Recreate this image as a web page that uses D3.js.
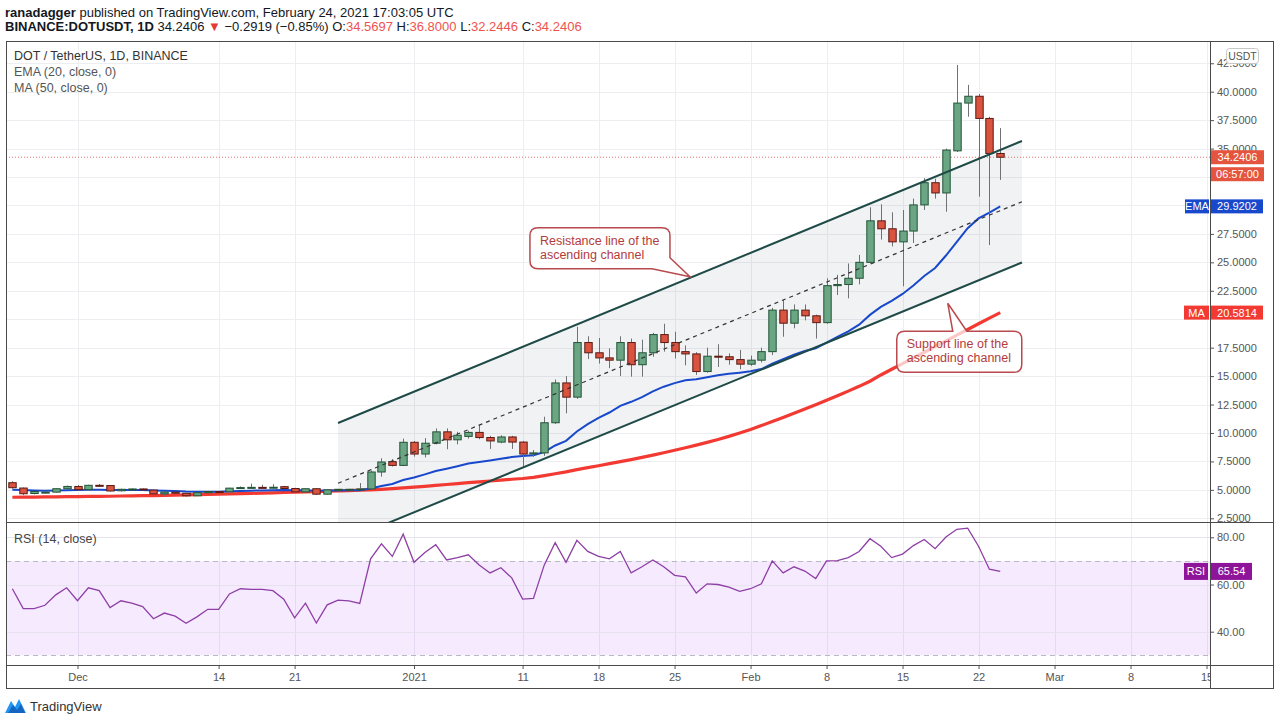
<!DOCTYPE html>
<html>
<head>
<meta charset="utf-8">
<script src="https://cdn.jsdelivr.net/npm/d3@7"></script>
<style>
  body { margin: 0; background: #fff; }
  svg text { font-family: "Liberation Sans", Arial, sans-serif; }
</style>
</head>
<body>
<svg id="chart" width="1280" height="723"></svg>
<script>
// ---- data ----
const days = ('2020-11-25 2020-11-26 2020-11-27 2020-11-28 2020-11-29 2020-11-30 ' +
  '2020-12-01 2020-12-02 2020-12-03 2020-12-04 2020-12-05 2020-12-06 2020-12-07 2020-12-08 2020-12-09 2020-12-10 ' +
  '2020-12-11 2020-12-12 2020-12-13 2020-12-14 2020-12-15 2020-12-16 2020-12-17 2020-12-18 2020-12-19 2020-12-20 ' +
  '2020-12-21 2020-12-22 2020-12-23 2020-12-24 2020-12-25 2020-12-26 2020-12-27 2020-12-28 2020-12-29 2020-12-30 2020-12-31 ' +
  '2021-01-01 2021-01-02 2021-01-03 2021-01-04 2021-01-05 2021-01-06 2021-01-07 2021-01-08 2021-01-09 2021-01-10 ' +
  '2021-01-11 2021-01-12 2021-01-13 2021-01-14 2021-01-15 2021-01-16 2021-01-17 2021-01-18 2021-01-19 2021-01-20 ' +
  '2021-01-21 2021-01-22 2021-01-23 2021-01-24 2021-01-25 2021-01-26 2021-01-27 2021-01-28 2021-01-29 2021-01-30 2021-01-31 ' +
  '2021-02-01 2021-02-02 2021-02-03 2021-02-04 2021-02-05 2021-02-06 2021-02-07 2021-02-08 2021-02-09 2021-02-10 ' +
  '2021-02-11 2021-02-12 2021-02-13 2021-02-14 2021-02-15 2021-02-16 2021-02-17 2021-02-18 2021-02-19 2021-02-20 ' +
  '2021-02-21 2021-02-22 2021-02-23 2021-02-24').split(' ');

const opens = [5.63,5.16,4.68,4.78,4.80,5.10,5.30,5.02,5.40,5.38,
  4.92,5.05,5.08,4.98,4.65,4.80,4.70,4.48,4.75,4.85,
  4.83,5.15,5.20,5.22,5.20,5.28,5.12,4.82,5.10,4.62,
  5.00,5.05,5.05,5.08,6.57,7.48,7.15,9.18,8.15,9.10,
  10.10,9.40,9.70,10.05,9.60,9.20,9.65,9.20,8.15,8.25,
  10.90,14.40,13.15,17.95,17.05,16.60,16.40,17.95,16.00,17.05,
  18.65,17.95,17.15,16.95,15.40,16.75,16.70,16.45,16.05,16.40,
  17.15,20.80,19.65,20.80,20.30,19.70,22.95,23.05,23.60,25.00,
  28.65,27.95,26.80,27.75,30.05,32.00,31.10,34.80,39.00,39.60,
  37.65,34.5697];
const highs = [5.75,5.20,4.90,4.88,5.12,5.38,5.42,5.45,5.52,5.42,
  5.10,5.12,5.12,5.02,4.85,4.85,4.74,4.80,4.90,4.90,
  5.18,5.30,5.55,5.45,5.50,5.35,5.18,5.12,5.12,5.02,
  5.08,5.10,5.60,6.70,7.78,7.70,9.50,9.30,9.55,10.40,
  10.40,10.10,10.20,10.70,9.75,9.80,9.75,9.30,8.50,11.43,
  14.70,15.00,19.34,18.50,18.35,17.44,18.50,18.30,18.20,18.80,
  19.60,18.90,17.70,17.10,17.50,17.80,17.00,17.30,16.80,17.50,
  21.00,21.69,21.30,21.30,20.40,23.60,23.90,24.90,25.65,29.84,
  30.10,29.40,29.60,30.60,32.40,32.35,35.00,42.35,40.60,39.80,
  37.80,36.80];
const lows = [5.10,4.55,4.60,4.70,4.76,5.05,4.95,4.98,5.30,4.85,
  4.85,4.98,4.95,4.58,4.50,4.65,4.40,4.45,4.70,4.78,
  4.80,5.10,5.15,5.15,5.15,5.08,4.78,4.78,4.55,4.58,
  4.95,5.00,5.00,5.00,6.16,7.05,7.10,7.92,7.85,9.00,
  8.57,9.00,9.50,9.45,8.60,9.10,8.60,7.04,7.90,7.99,
  10.80,11.73,13.00,16.50,16.10,15.70,15.00,14.95,14.95,16.70,
  17.15,16.55,15.95,15.10,15.30,15.80,16.00,15.60,15.90,16.20,
  16.85,18.46,19.20,19.90,18.30,19.60,22.13,21.84,23.07,24.90,
  27.00,26.40,22.90,26.70,29.60,30.60,29.45,34.70,37.80,30.77,
  26.52,32.2446];
const closes = [5.19,4.66,4.86,4.80,5.10,5.30,5.02,5.40,5.38,4.90,
  5.05,5.08,5.00,4.65,4.80,4.70,4.48,4.75,4.85,4.83,
  5.15,5.20,5.22,5.20,5.23,5.12,4.82,5.10,4.62,5.00,
  5.05,5.05,5.08,6.57,7.45,7.15,9.18,8.15,9.10,10.10,
  9.40,9.80,10.05,9.60,9.30,9.65,9.20,8.15,8.25,10.90,
  14.40,13.15,17.95,17.05,16.60,16.40,17.95,16.00,17.05,18.65,
  17.95,17.15,16.95,15.40,16.75,16.70,16.45,16.05,16.40,17.15,
  20.80,19.65,20.80,20.30,19.70,22.95,23.05,23.60,25.00,28.65,
  27.95,26.80,27.75,30.05,32.00,31.10,34.87,39.00,39.60,37.65,
  34.57,34.2406];

const ema20 = [5.00,4.98,4.95,4.93,4.95,4.97,4.98,5.00,5.02,4.99,
  4.98,4.98,4.98,4.94,4.92,4.89,4.85,4.84,4.84,4.84,
  4.87,4.90,4.93,4.95,4.97,4.98,4.96,4.97,4.93,4.94,
  4.95,4.96,4.97,5.12,5.34,5.52,5.87,6.08,6.36,6.66,
  6.86,7.08,7.31,7.45,7.58,7.73,7.88,7.98,8.05,8.33,
  8.90,9.31,10.13,10.78,11.32,11.80,12.38,12.74,13.15,13.66,
  14.07,14.38,14.63,14.72,14.90,15.07,15.20,15.30,15.42,15.62,
  16.10,16.48,16.88,17.20,17.45,17.95,18.44,18.94,19.52,20.38,
  21.08,21.62,22.22,22.96,23.80,24.50,25.60,26.80,28.00,28.86,
  29.38,29.9202];
const ma50 = [4.35,4.36,4.37,4.38,4.39,4.40,4.41,4.42,4.43,4.44,
  4.46,4.47,4.49,4.50,4.52,4.54,4.56,4.58,4.60,4.62,
  4.65,4.67,4.69,4.72,4.74,4.77,4.79,4.82,4.85,4.88,
  4.91,4.94,4.97,5.00,5.05,5.10,5.17,5.24,5.31,5.39,
  5.47,5.55,5.63,5.71,5.78,5.85,5.93,6.00,6.10,6.25,
  6.42,6.58,6.78,6.95,7.12,7.30,7.48,7.66,7.85,8.05,
  8.26,8.48,8.70,8.93,9.17,9.42,9.70,10.00,10.30,10.65,
  11.00,11.36,11.73,12.10,12.48,12.87,13.27,13.68,14.10,14.55,
  15.10,15.60,16.10,16.60,17.10,17.60,18.10,18.60,19.10,19.60,
  20.10,20.5814];
const rsi14 = [58.2,49.8,49.8,51.2,55.6,58.6,53.1,58.6,57.4,50.2,
  53.1,52.1,50.6,45.5,47.9,46.6,43.6,46.3,49.5,49.5,
  56.0,58.2,57.9,57.9,57.4,53.8,45.9,52.1,43.7,51.4,
  53.4,53.1,52.0,70.9,77.2,71.9,81.3,69.4,73.6,76.9,
  70.4,71.4,72.6,68.3,64.9,67.1,62.8,53.8,54.1,68.3,
  77.7,69.4,78.7,74.0,71.9,70.9,74.0,64.9,67.5,70.4,
  67.5,63.9,63.2,56.4,60.3,60.0,58.9,57.1,58.2,60.3,
  70.0,64.9,67.5,65.7,62.5,70.0,70.1,71.4,74.0,79.4,
  76.2,71.4,72.9,76.5,79.1,75.2,80.1,83.4,83.9,76.2,
  66.5,65.54];

// price labels that the axis badges hide in the original are left out
const priceTicks = [2.5,5,7.5,10,12.5,15,17.5,22.5,25,27.5,35,37.5,40,42.5];
const priceGrid = [2.5,5,7.5,10,12.5,15,17.5,20,22.5,25,27.5,30,32.5,35,37.5,40,42.5];
const rsiTicks = [40,60,80];
const timeTicks = ['2020-12-01','2020-12-14','2020-12-21','2021-01-01','2021-01-11','2021-01-18',
  '2021-01-25','2021-02-01','2021-02-08','2021-02-15','2021-02-22','2021-03-01','2021-03-08','2021-03-15'];
const timeLabels = ['Dec','14','21','2021','11','18','25','Feb','8','15','22','Mar','8','15'];

// parallel channel drawing: anchor dates and prices of the three lines
const channelDates = ['2020-12-25', '2021-02-26'];
const channelUpper = [10.88, 35.67];
const channelMiddle = [5.58, 30.33];
const channelLower = [0.28, 24.99];

const notes = [
  { lines: ['Resistance line of the', 'ascending channel'], tipDate: '2021-01-26T10:00:00Z', tipPrice: 23.74, tail: 'bottom-right' },
  { lines: ['Support line of the', 'ascending channel'], tipDate: '2021-02-19T04:00:00Z', tipPrice: 21.4, tail: 'top' }
];

// ---- layout ----
const frame = { left: 6, right: 1273, top: 41, bottom: 688 };
const axisX = 1210;
const priceBottom = 522, rsiBottom = 665;

const parse = d3.utcParse('%Y-%m-%d');
const dates = days.map(parse);
const last = closes.length - 1;

const x = d3.scaleUtc()
  .domain([parse('2020-12-01'), parse('2021-03-15')])
  .range([77.5, 1206.5]);
const y = d3.scaleLinear().domain([2.5, 40]).range([518.3, 91.7]);
const yr = d3.scaleLinear().domain([40, 80]).range([631.7, 537.3]);

const svg = d3.select('#chart');
const defs = svg.append('defs');
defs.append('clipPath').attr('id', 'clipPrice')
  .append('rect').attr('x', frame.left).attr('y', frame.top)
  .attr('width', axisX - frame.left).attr('height', priceBottom - frame.top);
defs.append('clipPath').attr('id', 'clipRsi')
  .append('rect').attr('x', frame.left).attr('y', priceBottom)
  .attr('width', axisX - frame.left).attr('height', rsiBottom - priceBottom);
defs.append('clipPath').attr('id', 'clipTime')
  .append('rect').attr('x', frame.left).attr('y', rsiBottom)
  .attr('width', axisX - frame.left).attr('height', frame.bottom - rsiBottom);

// ---- header ----
const hdr = svg.append('g').attr('font-size', 13).attr('fill', '#131722');
const l1 = hdr.append('text').attr('x', 5).attr('y', 17);
l1.append('tspan').attr('font-weight', 'bold').text('ranadagger');
l1.append('tspan').text(' published on TradingView.com, February 24, 2021 17:03:05 UTC');
const l2 = hdr.append('text').attr('x', 5).attr('y', 31);
l2.append('tspan').attr('font-weight', 'bold').text('BINANCE:DOTUSDT, 1D');
l2.append('tspan').text(' 34.2406 ');
l2.append('tspan').attr('fill', '#e53935').text('▼');
l2.append('tspan').text(' −0.2919 (−0.85%) O:');
l2.append('tspan').attr('fill', '#ef5350').text('34.5697');
l2.append('tspan').text(' H:');
l2.append('tspan').attr('fill', '#ef5350').text('36.8000');
l2.append('tspan').text(' L:');
l2.append('tspan').attr('fill', '#ef5350').text('32.2446');
l2.append('tspan').text(' C:');
l2.append('tspan').attr('fill', '#ef5350').text('34.2406');

// ---- grid ----
const grid = svg.append('g').attr('stroke', '#eceef2').attr('stroke-width', 1);
grid.append('g').attr('clip-path', 'url(#clipPrice)')
  .selectAll('line').data(timeTicks).join('line')
  .attr('x1', d => Math.round(x(parse(d))) + 0.5).attr('x2', d => Math.round(x(parse(d))) + 0.5)
  .attr('y1', frame.top).attr('y2', priceBottom);
grid.append('g').attr('clip-path', 'url(#clipRsi)')
  .selectAll('line').data(timeTicks).join('line')
  .attr('x1', d => Math.round(x(parse(d))) + 0.5).attr('x2', d => Math.round(x(parse(d))) + 0.5)
  .attr('y1', priceBottom).attr('y2', rsiBottom);
grid.append('g').attr('clip-path', 'url(#clipPrice)')
  .selectAll('line').data(priceGrid).join('line')
  .attr('x1', frame.left).attr('x2', axisX)
  .attr('y1', d => Math.round(y(d)) + 0.5).attr('y2', d => Math.round(y(d)) + 0.5);

// ---- price pane ----
const pane = svg.append('g').attr('clip-path', 'url(#clipPrice)');
const cx0 = x(parse(channelDates[0])), cx1 = x(parse(channelDates[1]));

pane.append('path')
  .attr('d', `M${cx0},${y(channelUpper[0])}L${cx1},${y(channelUpper[1])}L${cx1},${y(channelLower[1])}L${cx0},${y(channelLower[0])}Z`)
  .attr('fill', 'rgba(120,123,134,0.1)');

// last price dotted line
pane.append('line')
  .attr('x1', frame.left).attr('x2', axisX)
  .attr('y1', y(closes[last])).attr('y2', y(closes[last]))
  .attr('stroke', '#e57373').attr('stroke-dasharray', '1,2').attr('stroke-width', 1);

// moving averages
const line = d3.line().x((d, i) => x(dates[i])).y(d => y(d));
pane.append('path').datum(ma50).attr('d', line)
  .attr('fill', 'none').attr('stroke', '#f23a33').attr('stroke-width', 3.2);
pane.append('path').datum(ema20).attr('d', line)
  .attr('fill', 'none').attr('stroke', '#1848cc').attr('stroke-width', 2);

// candles
const bodyW = 7.4;
const candles = pane.append('g').selectAll('g').data(dates).join('g');
candles.append('line')
  .attr('x1', d => Math.round(x(d)) + 0.5).attr('x2', d => Math.round(x(d)) + 0.5)
  .attr('y1', (d, i) => y(highs[i])).attr('y2', (d, i) => y(lows[i]))
  .attr('stroke', '#6f7175').attr('stroke-width', 1);
candles.append('rect')
  .attr('x', d => Math.round(x(d)) + 0.5 - bodyW / 2)
  .attr('width', bodyW)
  .attr('y', (d, i) => y(Math.max(opens[i], closes[i])))
  .attr('height', (d, i) => Math.max(1, Math.abs(y(opens[i]) - y(closes[i]))))
  .attr('fill', (d, i) => closes[i] >= opens[i] ? '#6aa584' : '#d9533f')
  .attr('stroke', (d, i) => closes[i] >= opens[i] ? '#225437' : '#5b1a13')
  .attr('stroke-width', 1);

// channel lines
pane.append('line')
  .attr('x1', cx0).attr('y1', y(channelUpper[0])).attr('x2', cx1).attr('y2', y(channelUpper[1]))
  .attr('stroke', '#1e4a47').attr('stroke-width', 2);
pane.append('line')
  .attr('x1', cx0).attr('y1', y(channelLower[0])).attr('x2', cx1).attr('y2', y(channelLower[1]))
  .attr('stroke', '#1e4a47').attr('stroke-width', 2);
pane.append('line')
  .attr('x1', cx0).attr('y1', y(channelMiddle[0])).attr('x2', cx1).attr('y2', y(channelMiddle[1]))
  .attr('stroke', '#333').attr('stroke-width', 1.2).attr('stroke-dasharray', '4,4');

// callouts
const r = 8;
notes.forEach(n => {
  const tx = x(d3.isoParse(n.tipDate)), ty = y(n.tipPrice);
  let L, T, R, B, p;
  if (n.tail === 'bottom-right') {
    L = tx - 160; R = tx - 20; T = ty - 49; B = ty - 8;
    p = `M${L + r},${T}H${R - r}Q${R},${T} ${R},${T + r}V${B - 11}L${tx},${ty}L${R - 18},${B}` +
        `H${L + r}Q${L},${B} ${L},${B - r}V${T + r}Q${L},${T} ${L + r},${T}Z`;
  } else {
    L = tx - 51; R = tx + 74; T = ty + 28; B = ty + 69;
    p = `M${L + r},${T}H${tx + 5}L${tx},${ty}L${tx + 19},${T}H${R - r}Q${R},${T} ${R},${T + r}` +
        `V${B - r}Q${R},${B} ${R - r},${B}H${L + r}Q${L},${B} ${L},${B - r}V${T + r}Q${L},${T} ${L + r},${T}Z`;
  }
  pane.append('path').attr('d', p)
    .attr('fill', 'rgba(255,255,255,0.72)').attr('stroke', '#b8494d').attr('stroke-width', 1.5);
  pane.append('g').selectAll('text').data(n.lines).join('text')
    .attr('x', L + 10).attr('y', (d, i) => T + 17 + i * 14)
    .attr('font-size', 12.5).attr('fill', '#b23c3c').text(d => d);
});

// pane legend
const leg = svg.append('g').attr('font-size', 12.5);
leg.append('text').attr('x', 14).attr('y', 60).attr('fill', '#333').text('DOT / TetherUS, 1D, BINANCE');
leg.append('text').attr('x', 14).attr('y', 76).attr('fill', '#555').text('EMA (20, close, 0)');
leg.append('text').attr('x', 14).attr('y', 92).attr('fill', '#555').text('MA (50, close, 0)');

// ---- RSI pane ----
const rp = svg.append('g').attr('clip-path', 'url(#clipRsi)');
rp.append('rect').attr('x', frame.left).attr('width', axisX - frame.left)
  .attr('y', yr(70)).attr('height', yr(30) - yr(70))
  .attr('fill', 'rgba(153,21,255,0.09)');
rp.append('g').selectAll('line').data(rsiTicks).join('line')
  .attr('x1', frame.left).attr('x2', axisX)
  .attr('y1', d => Math.round(yr(d)) + 0.5).attr('y2', d => Math.round(yr(d)) + 0.5)
  .attr('stroke', '#e6e3ee');
rp.append('g').selectAll('line').data([70, 30]).join('line')
  .attr('x1', frame.left).attr('x2', axisX)
  .attr('y1', d => Math.round(yr(d)) + 0.5).attr('y2', d => Math.round(yr(d)) + 0.5)
  .attr('stroke', '#b9b9c0').attr('stroke-dasharray', '5,4');
rp.append('path').datum(rsi14)
  .attr('d', d3.line().x((d, i) => x(dates[i])).y(d => yr(d)))
  .attr('fill', 'none').attr('stroke', '#8e3fa5').attr('stroke-width', 1.3);
svg.append('text').attr('x', 14).attr('y', 543).attr('font-size', 12.5).attr('fill', '#444')
  .text('RSI (14, close)');

// ---- axes ----
const styleAxis = g => {
  g.select('.domain').remove();
  g.selectAll('.tick line').attr('stroke', '#555');
  g.selectAll('.tick text').attr('fill', '#555').attr('font-size', 11)
    .attr('font-family', '"Liberation Sans", Arial, sans-serif');
};
svg.append('g').attr('transform', `translate(${axisX},0)`)
  .call(d3.axisRight(y).tickValues(priceTicks).tickFormat(d3.format('.4f')).tickSize(4).tickPadding(3))
  .call(styleAxis);
svg.append('g').attr('transform', `translate(${axisX},0)`)
  .call(d3.axisRight(yr).tickValues(rsiTicks).tickFormat(d3.format('.2f')).tickSize(4).tickPadding(3))
  .call(styleAxis);
svg.append('g').attr('clip-path', 'url(#clipTime)')
  .append('g').attr('transform', `translate(0,${rsiBottom})`)
  .call(d3.axisBottom(x).tickValues(timeTicks.map(parse)).tickFormat((d, i) => timeLabels[i]).tickSize(4).tickPadding(4))
  .call(styleAxis);

// ---- frame & separators ----
const fr = svg.append('g').attr('stroke', '#4a4a4a').attr('fill', 'none').attr('stroke-width', 1);
fr.append('rect').attr('x', frame.left + 0.5).attr('y', frame.top + 0.5)
  .attr('width', frame.right - frame.left).attr('height', frame.bottom - frame.top);
fr.append('line').attr('x1', frame.left).attr('x2', frame.right).attr('y1', priceBottom + 0.5).attr('y2', priceBottom + 0.5);
fr.append('line').attr('x1', frame.left).attr('x2', frame.right).attr('y1', rsiBottom + 0.5).attr('y2', rsiBottom + 0.5);
fr.append('line').attr('x1', axisX + 0.5).attr('x2', axisX + 0.5).attr('y1', frame.top).attr('y2', frame.bottom);

// ---- axis badges ----
function badge(yc, h, x0, w, fill, label, fg) {
  svg.append('rect').attr('x', x0).attr('y', yc - h / 2).attr('width', w).attr('height', h).attr('fill', fill);
  svg.append('text').attr('x', x0 + w / 2).attr('y', yc + 4).attr('text-anchor', 'middle')
    .attr('font-size', 11).attr('fill', fg || '#fff').text(label);
}
svg.append('rect').attr('x', 1226.5).attr('y', 48.5).attr('width', 32).attr('height', 15).attr('rx', 3)
  .attr('fill', '#fff').attr('stroke', '#c8c8c8');
svg.append('text').attr('x', 1242.5).attr('y', 60).attr('text-anchor', 'middle')
  .attr('font-size', 10.5).attr('fill', '#555').text('USDT');
badge(y(closes[last]), 14, 1211, 53, '#e4543e', d3.format('.4f')(closes[last]));
badge(y(closes[last]) + 17, 14, 1211, 53, '#e4543e', '06:57:00');
badge(y(ema20[last]), 14, 1185, 24, '#1848cc', 'EMA');
badge(y(ema20[last]), 14, 1211, 52, '#1848cc', d3.format('.4f')(ema20[last]));
badge(y(ma50[last]), 14, 1184, 25, '#f23a33', 'MA');
badge(y(ma50[last]), 14, 1211, 52, '#f23a33', d3.format('.4f')(ma50[last]));
badge(yr(rsi14[last]), 17, 1184, 24, '#8e1599', 'RSI');
badge(yr(rsi14[last]), 17, 1211, 41, '#8e1599', d3.format('.2f')(rsi14[last]));

// ---- TradingView mark ----
const logo = svg.append('g').attr('transform', 'translate(5,697)');
logo.append('path').attr('d', 'M0,16 L6,4 L10,10 L14,2 L21,16 Z').attr('fill', '#2196f3');
logo.append('path').attr('d', 'M3,16 L8,8 L12,13 L16,7 L20,16 Z').attr('fill', '#1565c0');
svg.append('text').attr('x', 30).attr('y', 711).attr('font-size', 13).attr('fill', '#333').text('TradingView');
</script>
</body>
</html>
